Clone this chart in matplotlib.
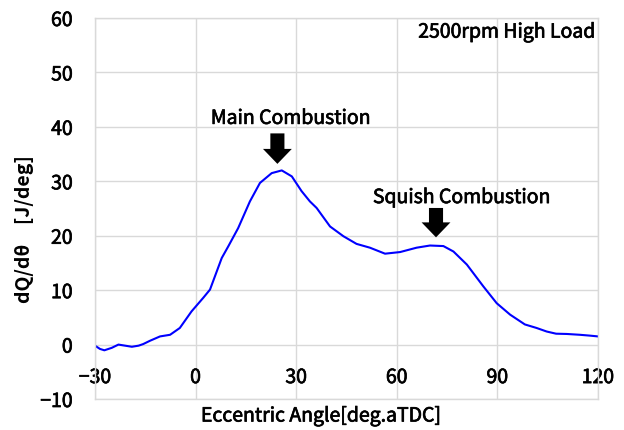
""" Heat release rate curve (dQ/dθ) at 2500rpm high load """

import matplotlib
matplotlib.use("Agg")
from matplotlib import pyplot as plt
from matplotlib import patheffects as pe

# crank (eccentric) angle and heat release rate
angle = [-30, -28.5, -27.2, -25, -23, -21, -19, -17, -15.6, -13.6, -10.6, -7.6,
         -4.7, -1.2, 2.3, 4.3, 7.8, 9.8, 12.7, 16.2, 19.2, 22.7, 25.7, 28.7,
         31.6, 34.1, 36.1, 40.1, 44.1, 48.0, 52.0, 56.5, 61.0, 65.9, 69.9,
         73.9, 76.9, 80.9, 85.8, 89.8, 93.8, 98.2, 101.7, 104.7, 107.5, 110.7,
         114.6, 117.5, 120]
dqdtheta = [-0.2, -0.8, -1.05, -0.6, 0.0, -0.2, -0.4, -0.2, 0.1, 0.7, 1.5, 1.8,
            3.05, 6.1, 8.6, 10.1, 15.9, 18.1, 21.4, 26.3, 29.7, 31.5, 32.0, 30.9,
            28.2, 26.3, 25.1, 21.7, 19.9, 18.5, 17.8, 16.7, 17.0, 17.8, 18.2,
            18.1, 17.1, 14.7, 10.7, 7.6, 5.5, 3.7, 3.05, 2.4, 2.0, 1.95,
            1.8, 1.65, 1.5]

x_ticks = [-30, 0, 30, 60, 90, 120]
y_ticks = [-10, 0, 10, 20, 30, 40, 50, 60]

# annotations: label, arrow x, arrow top, arrow length, text x, text baseline
notes = [("Main Combustion", 24.4, 38.8, 5.6, 28.4, 40.55),
         ("Squish Combustion", 71.7, 25.1, 5.4, 79.4, 26.0)]

# medium weight if the font has it, regular otherwise
plt.rcParams['font.family'] = ['Noto Sans CJK JP Medium', 'Noto Sans CJK JP', 'DejaVu Sans']
grid_col = '#d9d9d9'
heavy = [pe.withStroke(linewidth=0.5, foreground='black')]

fig = plt.figure(figsize=(6.24, 4.31), dpi=100)
ax = fig.add_axes([0.1522, 0.0719, 0.8061, 0.884])

ax.plot(angle, dqdtheta, color='#0000ff', lw=1.5)

ax.set_xlim(-30, 120)
ax.set_ylim(-10, 60)
ax.set_xticks(x_ticks)
ax.set_yticks(y_ticks)
ax.grid(True, color=grid_col, lw=1)
ax.set_axisbelow(True)
for s in ax.spines.values():
    s.set_color(grid_col)
    s.set_linewidth(1)
ax.tick_params(axis='both', length=0, labelsize=14)
ax.tick_params(axis='y', pad=16)
ax.tick_params(axis='x', pad=-23)
for lab in ax.get_xticklabels() + ax.get_yticklabels():
    lab.set_path_effects(heavy)

for text, xa, top, length, xt, base in notes:
    ax.text(xt, base, text, ha='center', va='baseline', fontsize=14,
            path_effects=heavy)
    ax.arrow(xa, top, 0, -length, width=4.2, head_width=8.6,
             head_length=2.75, length_includes_head=True,
             color='black', lw=0)

ax.text(0.995, 0.963, "2500rpm High Load", transform=ax.transAxes,
        ha='right', va='center', fontsize=14, path_effects=heavy)

fig.text(321 / 624, 1 - 417 / 431, "Eccentric Angle[deg.aTDC]",
         ha='center', va='center', fontsize=14, path_effects=heavy)
fig.text(25 / 624, 1 - 229 / 431, "dQ/dθ　[J/deg]", rotation=90,
         ha='center', va='center', fontsize=14, fontweight='bold')

fig.savefig("out.png", dpi=100)
